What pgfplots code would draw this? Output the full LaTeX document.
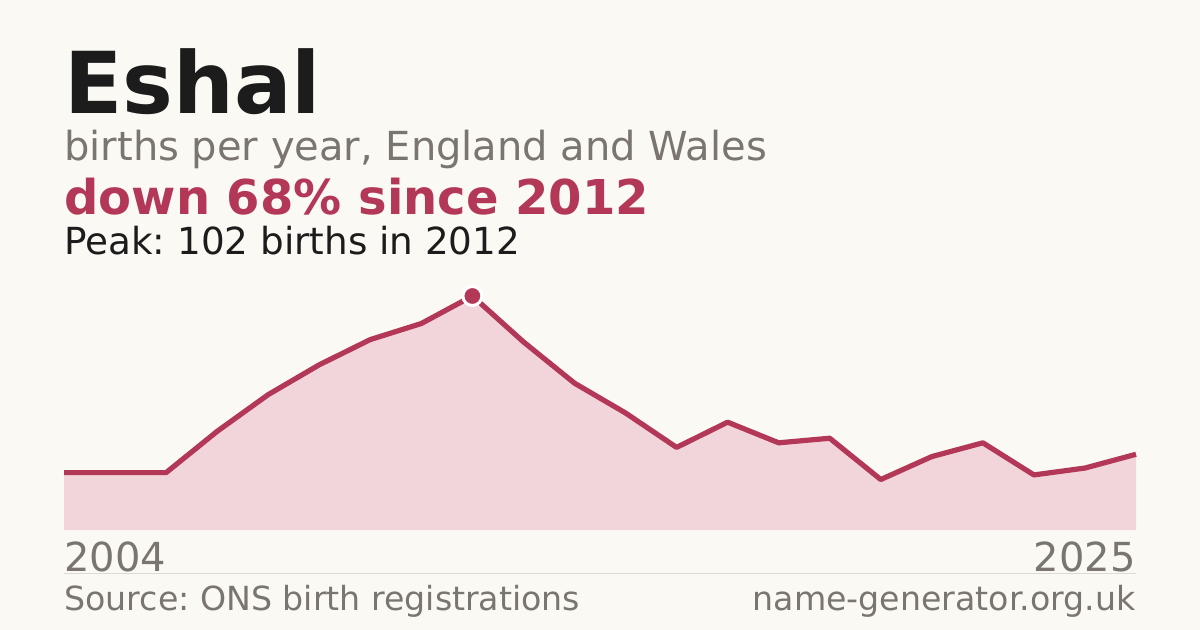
\documentclass[border=0pt]{standalone}
\usepackage{fontspec}
\setmainfont{DejaVu Sans}
\usepackage{pgfplots}
\pgfplotsset{compat=1.18}
\definecolor{bg}{HTML}{FAF9F4}
\definecolor{ink}{HTML}{1C1C1C}
\definecolor{muted}{HTML}{7A756E}
\definecolor{accent}{HTML}{B33858}
\definecolor{areafill}{HTML}{F2D5DB}
\definecolor{rule}{HTML}{DEDBD4}
\frenchspacing
\begin{document}
\begin{tikzpicture}[x=0.5pt,y=0.5pt]
\fill[bg] (0,0) rectangle (1200,630);
\coordinate (plotorigin) at (64,100);
\node[anchor=base west,inner sep=0,text=ink,font=\fontsize{42.7}{43}\selectfont\bfseries] at (64,516) {Eshal};
\node[anchor=base west,inner sep=0,text=muted,font=\fontsize{20}{20}\selectfont] at (64,469) {births per year, England and Wales};
\node[anchor=base west,inner sep=0,text=accent,font=\fontsize{24}{24}\selectfont\bfseries] at (64,415) {down 68\% since 2012};
\node[anchor=base west,inner sep=0,text=ink,font=\fontsize{18.65}{19}\selectfont] at (64,375) {Peak: 102 births in 2012};
\begin{axis}[
    at={(plotorigin)}, anchor=south west,
    scale only axis, width=536pt, height=117pt,
    hide axis, clip=false,
    xmin=2004, xmax=2025, ymin=0, ymax=102,
]
\addplot[fill=areafill, draw=none] coordinates {
 (2004,25) (2005,25) (2006,25) (2007,43) (2008,59) (2009,72) (2010,83)
 (2011,90) (2012,102) (2013,82) (2014,64) (2015,51) (2016,36) (2017,47)
 (2018,38) (2019,40) (2020,22) (2021,32) (2022,38) (2023,24) (2024,27) (2025,33)
} \closedcycle;
\addplot[accent, line width=2.6pt, line join=round, mark=none] coordinates {
 (2004,25) (2005,25) (2006,25) (2007,43) (2008,59) (2009,72) (2010,83)
 (2011,90) (2012,102) (2013,82) (2014,64) (2015,51) (2016,36) (2017,47)
 (2018,38) (2019,40) (2020,22) (2021,32) (2022,38) (2023,24) (2024,27) (2025,33)
};
\addplot[only marks, mark=*, mark size=4.75pt, mark options={fill=accent, draw=white, line width=1.5pt}] coordinates {(2012,102)};
\end{axis}
\node[anchor=base west,inner sep=0,text=muted,font=\fontsize{20}{20}\selectfont] at (64,58) {2004};
\node[anchor=base east,inner sep=0,text=muted,font=\fontsize{20}{20}\selectfont] at (1136,58) {2025};
\draw[rule, line width=0.5pt] (64,56) -- (1136,56);
\node[anchor=base west,inner sep=0,text=muted,font=\fontsize{16.6}{17}\selectfont] at (64,19) {Source: ONS birth registrations};
\node[anchor=base east,inner sep=0,text=muted,font=\fontsize{16.6}{17}\selectfont] at (1136,19) {name-generator.org.uk};
\end{tikzpicture}
\end{document}
